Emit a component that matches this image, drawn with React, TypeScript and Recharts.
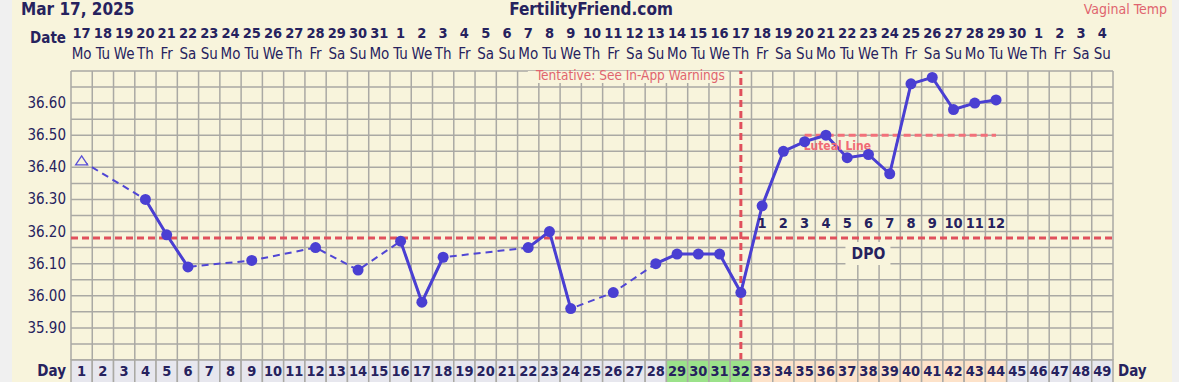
import React from 'react';
import { LineChart, Line, XAxis, YAxis, ReferenceLine, ReferenceDot } from 'recharts';

// cycle days, Mar 17 2025 = day 1
const days = [
  1, 2, 3, 4, 5, 6, 7, 8, 9, 10, 11, 12, 13, 14, 15, 16, 17, 18, 19, 20, 21, 22, 23, 24, 25,
  26, 27, 28, 29, 30, 31, 32, 33, 34, 35, 36, 37, 38, 39, 40, 41, 42, 43, 44, 45, 46, 47, 48, 49,
];
const dates = [
  '17', '18', '19', '20', '21', '22', '23', '24', '25', '26', '27', '28', '29', '30', '31',
  '1', '2', '3', '4', '5', '6', '7', '8', '9', '10', '11', '12', '13', '14', '15', '16', '17',
  '18', '19', '20', '21', '22', '23', '24', '25', '26', '27', '28', '29', '30', '1', '2', '3', '4',
];
const weekdays = [
  'Mo', 'Tu', 'We', 'Th', 'Fr', 'Sa', 'Su', 'Mo', 'Tu', 'We', 'Th', 'Fr', 'Sa', 'Su',
  'Mo', 'Tu', 'We', 'Th', 'Fr', 'Sa', 'Su', 'Mo', 'Tu', 'We', 'Th', 'Fr', 'Sa', 'Su',
  'Mo', 'Tu', 'We', 'Th', 'Fr', 'Sa', 'Su', 'Mo', 'Tu', 'We', 'Th', 'Fr', 'Sa', 'Su',
  'Mo', 'Tu', 'We', 'Th', 'Fr', 'Sa', 'Su',
];
const temps = [
  36.42, null, null, 36.30, 36.19, 36.09, null, null, 36.11, null, null, 36.15, null, 36.08,
  null, 36.17, 35.98, 36.12, null, null, null, 36.15, 36.20, 35.96, null, 36.01, null, 36.10,
  36.13, 36.13, 36.13, 36.01, 36.28, 36.45, 36.48, 36.50, 36.43, 36.44, 36.38, 36.66, 36.68,
  36.58, 36.60, 36.61, null, null, null, null, null,
];
const openDays = [1]; // hollow triangle marker
const fertileDays = [29, 30, 31, 32];
const postOvDays = [33, 34, 35, 36, 37, 38, 39, 40, 41, 42, 43, 44];
const dpoLabels = [1, 2, 3, 4, 5, 6, 7, 8, 9, 10, 11, 12];
const lutealDays = [35, 36, 37, 38, 39, 40, 41, 42, 43, 44];
const lutealTemp = 36.5;
const coverline = 36.18;
const ovulationDay = 32;
const tempTicks = [35.9, 36.0, 36.1, 36.2, 36.3, 36.4, 36.5, 36.6];

const W = 1179;
const H = 382;
const LEFT = 71;
const RIGHT = 1113;
const COL_W = (RIGHT - LEFT) / 49;

const NAVY = '#26225e';
const CREAM = '#f8f4dc';
const GRID = '#aaa9a4';
const PURPLE = '#4a3fd2';
const RED = '#e0505c';
const FONT = "'DejaVu Sans Condensed', 'DejaVu Sans', sans-serif";

const data = days.map((d, i) => ({
  day: d,
  temp: temps[i],
  luteal: lutealDays.includes(d) ? lutealTemp : null,
}));

const vGrid = Array.from({ length: 50 }, (_, i) => i + 0.5);
const hGrid = Array.from({ length: 19 }, (_, i) => Math.round((35.8 + i * 0.05) * 100) / 100);

const TopTick = ({ x, payload }: any) => (
  <g fontFamily={FONT} fill={NAVY}>
    <text x={x} y={38} textAnchor="middle" fontSize={14.5} fontWeight="bold">
      {dates[payload.value - 1]}
    </text>
    <text x={x} y={59} textAnchor="middle" fontSize={15}>
      {weekdays[payload.value - 1]}
    </text>
  </g>
);

const DayTick = ({ x, payload }: any) => {
  const d = payload.value;
  const fill = fertileDays.includes(d) ? '#9be28a' : postOvDays.includes(d) ? '#fde2c9' : '#e7e7ee';
  return (
    <g>
      <rect x={x - COL_W / 2} y={360} width={COL_W} height={26} fill={fill} stroke={GRID} strokeWidth={1.5} />
      <text x={x} y={376} textAnchor="middle" fontFamily={FONT} fontSize={14.5} fontWeight="bold" fill={NAVY}>
        {d}
      </text>
    </g>
  );
};

const LeftTick = ({ y, payload }: any) => (
  <text x={66} y={y + 5} textAnchor="end" fontFamily={FONT} fontSize={15} fill={NAVY}>
    {payload.value.toFixed(2)}
  </text>
);

const RightTick = ({ y, payload }: any) => (
  <text x={1119} y={y + 5} textAnchor="start" fontFamily={FONT} fontSize={15} fill={NAVY}>
    {payload.value.toFixed(2)}
  </text>
);

const TempDot = (props: any) => {
  const { cx, cy, payload, index } = props;
  if (cy == null || cx == null) return <g key={`d-${index}`} />;
  if (openDays.includes(payload.day)) {
    return (
      <path
        key={`d-${index}`}
        d={`M${cx} ${cy - 5} L${cx + 6} ${cy + 4} L${cx - 6} ${cy + 4} Z`}
        fill={CREAM}
        stroke="#5a50d6"
        strokeWidth={1.3}
      />
    );
  }
  return <circle key={`d-${index}`} cx={cx} cy={cy} r={5.5} fill={PURPLE} />;
};

export default function App() {
  return (
    <div style={{ position: 'absolute', left: 0, top: 0, width: W, height: H, background: '#f0f0f0', overflow: 'hidden' }}>
      <div style={{ position: 'absolute', left: 12, top: 0, width: 1160, height: H, background: CREAM }} />
      <div style={{ position: 'absolute', left: 0, top: 0 }}>
        <LineChart width={W} height={H} data={data} margin={{ top: 0, right: 0, bottom: 0, left: 0 }}>
          <XAxis
            xAxisId="top"
            orientation="top"
            dataKey="day"
            type="number"
            domain={[0.5, 49.5]}
            ticks={days}
            interval={0}
            height={71}
            axisLine={false}
            tickLine={false}
            tick={<TopTick />}
          />
          <XAxis
            xAxisId="bottom"
            dataKey="day"
            type="number"
            domain={[0.5, 49.5]}
            ticks={days}
            interval={0}
            height={22}
            axisLine={false}
            tickLine={false}
            tick={<DayTick />}
          />
          <YAxis
            yAxisId="left"
            type="number"
            domain={[35.8, 36.7]}
            ticks={tempTicks}
            interval={0}
            width={71}
            axisLine={false}
            tickLine={false}
            tick={<LeftTick />}
          />
          <YAxis
            yAxisId="right"
            orientation="right"
            type="number"
            domain={[35.8, 36.7]}
            ticks={tempTicks}
            interval={0}
            width={66}
            axisLine={false}
            tickLine={false}
            tick={<RightTick />}
          />

          {vGrid.map((v) => (
            <ReferenceLine key={`v${v}`} xAxisId="bottom" yAxisId="left" x={v} stroke={GRID} strokeWidth={1.5} ifOverflow="visible" />
          ))}
          {hGrid.map((v) => (
            <ReferenceLine key={`h${v}`} xAxisId="bottom" yAxisId="left" y={v} stroke={GRID} strokeWidth={1.5} ifOverflow="visible" />
          ))}

          <ReferenceLine
            xAxisId="bottom"
            yAxisId="left"
            x={ovulationDay}
            stroke={RED}
            strokeWidth={3}
            strokeDasharray="7 4"
            label={(p: any) => (
              <g>
                <rect x={p.viewBox.x - 213} y={p.viewBox.y} width={200} height={12} fill={CREAM} />
                <text x={p.viewBox.x - 16} y={p.viewBox.y + 9} textAnchor="end" fontFamily={FONT} fontSize={13.5} fill="#e0646e">
                  Tentative: See In-App Warnings
                </text>
              </g>
            )}
          />
          <ReferenceLine
            xAxisId="bottom"
            yAxisId="left"
            y={coverline}
            stroke={RED}
            strokeWidth={3}
            strokeDasharray="7 4"
          />

          {postOvDays.map((d, i) => (
            <ReferenceDot
              key={`dpo${d}`}
              xAxisId="bottom"
              yAxisId="left"
              x={d}
              y={36.21}
              r={1}
              fill="none"
              stroke="none"
              label={(p: any) => (
                <text x={p.viewBox.x + 1} y={p.viewBox.y + 1} textAnchor="middle" fontFamily={FONT} fontSize={14.5} fontWeight="bold" fill={NAVY}>
                  {dpoLabels[i]}
                </text>
              )}
            />
          ))}
          <ReferenceDot
            xAxisId="bottom"
            yAxisId="left"
            x={38}
            y={36.13}
            r={1}
            fill="none"
            stroke="none"
            label={(p: any) => (
              <g>
                <rect x={p.viewBox.x - 22} y={p.viewBox.y - 11} width={45} height={23} fill={CREAM} />
                <text x={p.viewBox.x + 1} y={p.viewBox.y + 6} textAnchor="middle" fontFamily={FONT} fontSize={15.5} fontWeight="bold" fill={NAVY}>
                  DPO
                </text>
              </g>
            )}
          />

          <Line
            xAxisId="bottom"
            yAxisId="left"
            dataKey="luteal"
            stroke="#f2707a"
            strokeWidth={3}
            strokeDasharray="7 4"
            dot={false}
            activeDot={false}
            isAnimationActive={false}
          />
          <ReferenceDot
            xAxisId="bottom"
            yAxisId="left"
            x={lutealDays[0]}
            y={lutealTemp}
            r={1}
            fill="none"
            stroke="none"
            label={(p: any) => (
              <text x={p.viewBox.x} y={p.viewBox.y + 16} fontFamily={FONT} fontSize={12} fontWeight="bold" fill="#f06a74">
                Luteal Line
              </text>
            )}
          />

          <Line
            xAxisId="bottom"
            yAxisId="left"
            dataKey="temp"
            stroke="#5046d4"
            strokeWidth={2}
            strokeDasharray="7 5"
            connectNulls
            dot={false}
            activeDot={false}
            isAnimationActive={false}
          />
          <Line
            xAxisId="bottom"
            yAxisId="left"
            dataKey="temp"
            stroke={PURPLE}
            strokeWidth={3}
            dot={TempDot}
            activeDot={false}
            isAnimationActive={false}
          />
        </LineChart>
      </div>
      <svg width={W} height={H} style={{ position: 'absolute', left: 0, top: 0, pointerEvents: 'none' }} fontFamily={FONT}>
        <text x={21} y={15} fontSize={17} fontWeight="bold" fill={NAVY}>Mar 17, 2025</text>
        <text x={591} y={15} textAnchor="middle" fontSize={17} fontWeight="bold" fill={NAVY}>FertilityFriend.com</text>
        <text x={1167} y={14} textAnchor="end" fontSize={14} fill="#e0646e">Vaginal Temp</text>
        <text x={66} y={43} textAnchor="end" fontSize={15} fontWeight="bold" fill={NAVY}>Date</text>
        <text x={66} y={376} textAnchor="end" fontSize={15} fontWeight="bold" fill={NAVY}>Day</text>
        <text x={1118} y={376} fontSize={15} fontWeight="bold" fill={NAVY}>Day</text>
      </svg>
    </div>
  );
}
